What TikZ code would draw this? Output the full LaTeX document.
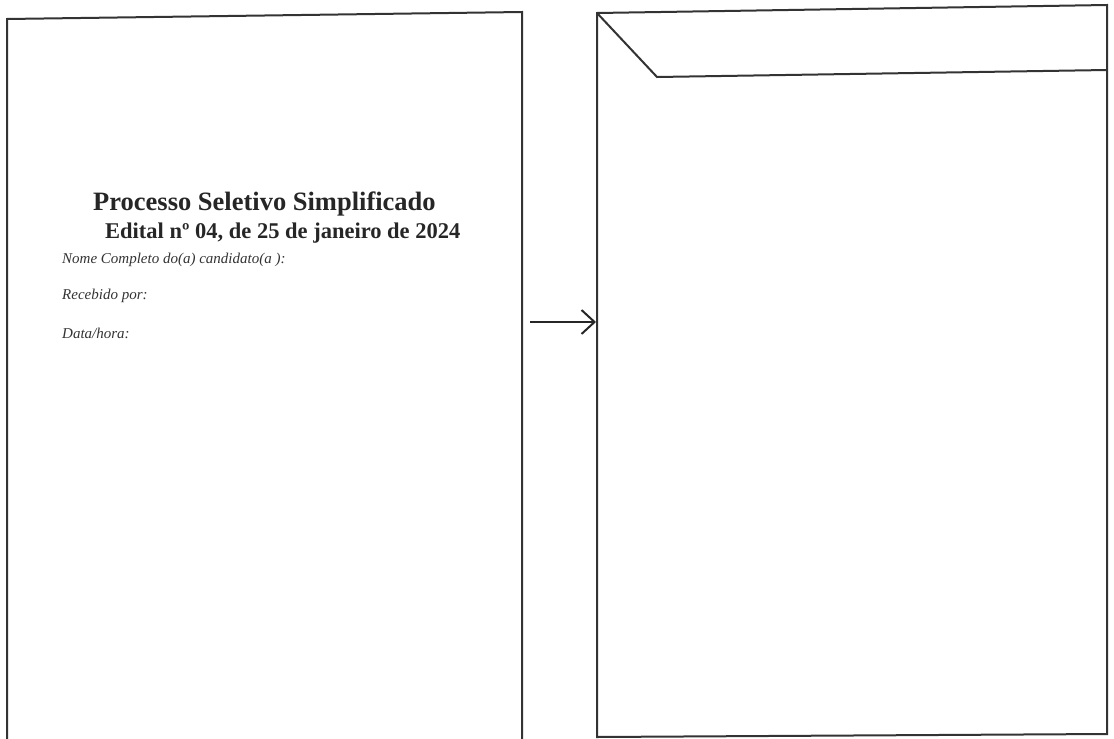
\documentclass[tikz,border=0pt]{standalone}
\usepackage{fontspec}
\setmainfont{Liberation Serif}
\usetikzlibrary{arrows.meta}
\begin{document}
\begin{tikzpicture}[x=1pt,y=-1pt,
  frame/.style={line width=2pt, draw=black!80, line join=miter},
  titletext/.style={font=\bfseries, text=black!85, inner sep=0pt},
  fieldtext/.style={font=\itshape\fontsize{15}{17}\selectfont, text=black!80, anchor=west, inner sep=0pt},
  link/.style={line width=2pt, draw=black!85, -{Straight Barb[length=13pt,width=24pt,line width=2pt]}}]
\useasboundingbox (0,0) rectangle (1114,739);
% left page
\coordinate (L1) at (7,19);
\coordinate (L2) at (522,12);
\draw[frame] (7,741) -- (L1) -- (L2) -- (522,741);
% right envelope
\coordinate (R1) at (597,13);
\coordinate (R2) at (1107,5);
\coordinate (R3) at (1107,734);
\coordinate (R4) at (597,737);
\draw[frame] (R1) -- (R2) -- (R3) -- (R4) -- cycle;
\coordinate (F1) at (657,77);
\coordinate (F2) at (1107,70);
\draw[frame] (R1) -- (F1) -- (F2);
% texts
\node[titletext, font=\bfseries\fontsize{26.5}{29}\selectfont, anchor=base west] (t1) at (93,210) {Processo Seletivo Simplificado};
\node[titletext, font=\bfseries\fontsize{22.5}{26}\selectfont, anchor=base west] (t2) at (105,238) {Edital nº 04, de 25 de janeiro de 2024};
\node[fieldtext] (f1) at (62,260) {Nome Completo do(a) candidato(a ):};
\node[fieldtext] (f2) at (62,296) {Recebido por:};
\node[fieldtext] (f3) at (62,333) {Data/hora:};
% arrow
\coordinate (A1) at (530,322);
\coordinate (A2) at (596,322);
\draw[link] (A1) -- (A2);
\end{tikzpicture}
\end{document}
